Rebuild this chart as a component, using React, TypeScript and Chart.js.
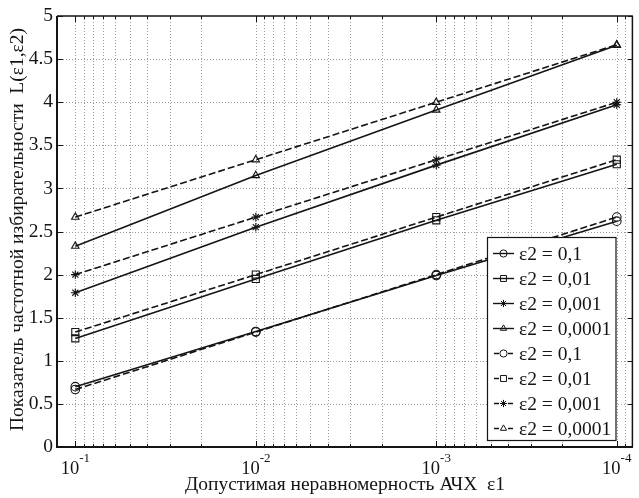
import React, { useEffect, useRef } from 'react';
import { Chart, registerables } from 'chart.js';
import { drawPoint } from 'chart.js/helpers';

Chart.register(...registerables);

// ---- data ----
const epsilon1 = [0.1, 0.01, 0.001, 0.0001];
const xTickExponents = [-1, -2, -3, -4];
const yTickValues = [0, 0.5, 1, 1.5, 2, 2.5, 3, 3.5, 4, 4.5, 5];
const legendLabels = ['ε2 = 0,1', 'ε2 = 0,01', 'ε2 = 0,001', 'ε2 = 0,0001', 'ε2 = 0,1', 'ε2 = 0,01', 'ε2 = 0,001', 'ε2 = 0,0001'];

const solidCircle = [0.70, 1.34, 1.99, 2.62];
const solidSquare = [1.26, 1.95, 2.63, 3.28];
const solidStar = [1.79, 2.55, 3.27, 3.97];
const solidTriangle = [2.33, 3.15, 3.91, 4.66];
const dashedCircle = [0.667, 1.333, 2.0, 2.667];
const dashedSquare = [1.333, 2.0, 2.667, 3.333];
const dashedStar = [2.0, 2.667, 3.333, 4.0];
const dashedTriangle = [2.667, 3.333, 4.0, 4.667];

const xTitle = 'Допустимая неравномерность АЧХ  ε1';
const yTitle = 'Показатель частотной избирательности  L(ε1,ε2)';

const series = [
  { values: solidCircle, marker: 'circle', dashed: false },
  { values: solidSquare, marker: 'rect', dashed: false },
  { values: solidStar, marker: 'star', dashed: false },
  { values: solidTriangle, marker: 'triangle', dashed: false },
  { values: dashedCircle, marker: 'circle', dashed: true },
  { values: dashedSquare, marker: 'rect', dashed: true },
  { values: dashedStar, marker: 'star', dashed: true },
  { values: dashedTriangle, marker: 'triangle', dashed: true },
];

const FONT = '"Liberation Serif", "Times New Roman", serif';
const X_MIN = 8.14e-5;
const X_MAX = 0.12631;
const INK = '#141414';

const decorPlugin = {
  id: 'decor',
  beforeDatasetsDraw(chart: any) {
    const { ctx, chartArea: a, scales } = chart;
    const x = scales.x;
    const y = scales.y;
    ctx.save();
    ctx.strokeStyle = '#9c9c9c';
    ctx.lineWidth = 1;
    ctx.setLineDash([1, 2]);
    for (const v of yTickValues) {
      if (v <= 0 || v >= 5) continue;
      const py = Math.round(y.getPixelForValue(v)) + 0.5;
      ctx.beginPath();
      ctx.moveTo(a.left, py);
      ctx.lineTo(a.right, py);
      ctx.stroke();
    }
    for (let e = -5; e <= -1; e++) {
      for (let m = 1; m <= 9; m++) {
        const v = m * Math.pow(10, e);
        if (v <= x.min || v > x.max) continue;
        const px = Math.round(x.getPixelForValue(v)) + 0.5;
        ctx.beginPath();
        ctx.moveTo(px, a.top);
        ctx.lineTo(px, a.bottom);
        ctx.stroke();
      }
    }
    ctx.restore();
  },
  afterDatasetsDraw(chart: any) {
    const { ctx, chartArea: a, scales } = chart;
    const x = scales.x;
    const y = scales.y;
    ctx.save();
    ctx.setLineDash([]);
    ctx.strokeStyle = INK;
    // ticks
    ctx.lineWidth = 1;
    for (let e = -5; e <= -1; e++) {
      for (let m = 1; m <= 9; m++) {
        const v = m * Math.pow(10, e);
        if (v <= x.min || v > x.max) continue;
        const px = Math.round(x.getPixelForValue(v)) + 0.5;
        const len = m === 1 ? 6 : 3;
        ctx.beginPath();
        ctx.moveTo(px, a.bottom);
        ctx.lineTo(px, a.bottom - len);
        ctx.moveTo(px, a.top);
        ctx.lineTo(px, a.top + len);
        ctx.stroke();
      }
    }
    for (const v of yTickValues) {
      const py = Math.round(y.getPixelForValue(v)) + 0.5;
      ctx.beginPath();
      ctx.moveTo(a.left, py);
      ctx.lineTo(a.left + 6, py);
      ctx.moveTo(a.right, py);
      ctx.lineTo(a.right - 5, py);
      ctx.stroke();
    }
    // box
    ctx.lineWidth = 1.5;
    ctx.beginPath();
    ctx.moveTo(a.left, a.top);
    ctx.lineTo(a.right, a.top);
    ctx.moveTo(a.right - 0.5, a.top);
    ctx.lineTo(a.right - 0.5, a.bottom);
    ctx.stroke();
    ctx.lineWidth = 2;
    ctx.beginPath();
    ctx.moveTo(a.left, a.top);
    ctx.lineTo(a.left, a.bottom);
    ctx.lineTo(a.right, a.bottom);
    ctx.stroke();

    // y tick labels
    ctx.fillStyle = INK;
    ctx.font = `19.5px ${FONT}`;
    ctx.textAlign = 'right';
    ctx.textBaseline = 'middle';
    for (const v of yTickValues) {
      ctx.fillText(String(v), a.left - 4, y.getPixelForValue(v));
    }
    // x tick labels with superscript
    ctx.textBaseline = 'alphabetic';
    ctx.textAlign = 'left';
    for (const e of xTickExponents) {
      const px = x.getPixelForValue(Math.pow(10, e));
      ctx.font = `18.5px ${FONT}`;
      const wBase = ctx.measureText('10').width;
      ctx.font = `13px ${FONT}`;
      const sup = '-' + String(-e);
      const wSup = ctx.measureText(sup).width;
      const x0 = px - (wBase + wSup) / 2;
      ctx.font = `18.5px ${FONT}`;
      ctx.fillText('10', x0, a.bottom + 27);
      ctx.font = `13px ${FONT}`;
      ctx.fillText(sup, x0 + wBase, a.bottom + 15);
    }
    // titles
    ctx.font = `19.5px ${FONT}`;
    ctx.textAlign = 'center';
    ctx.fillText(xTitle, (a.left + a.right) / 2, 490);
    ctx.save();
    ctx.translate(23, (a.top + a.bottom) / 2 - 2);
    ctx.rotate(-Math.PI / 2);
    ctx.fillText(yTitle, 0, 0);
    ctx.restore();

    // legend
    const bx = 487.5, by = 237.5, bw = 128.5, bh = 203;
    ctx.fillStyle = '#fff';
    ctx.fillRect(bx, by, bw, bh);
    ctx.lineWidth = 1.2;
    ctx.strokeStyle = INK;
    ctx.strokeRect(bx, by, bw, bh);
    series.forEach((s, i) => {
      const cy = 253.5 + i * 25;
      ctx.strokeStyle = INK;
      ctx.lineWidth = 1.4;
      ctx.beginPath();
      if (s.dashed) {
        ctx.moveTo(494, cy); ctx.lineTo(499, cy);
        ctx.moveTo(508, cy); ctx.lineTo(513, cy);
      } else {
        ctx.moveTo(493, cy); ctx.lineTo(514, cy);
      }
      ctx.stroke();
      ctx.fillStyle = 'rgba(0,0,0,0)';
      ctx.lineWidth = 1;
      drawPoint(ctx, { pointStyle: s.marker as any, radius: s.marker === 'rect' ? 4.2 : 3.6, borderWidth: 1, rotation: 0 }, 503.5, cy);
      ctx.fillStyle = INK;
      ctx.font = `19.5px ${FONT}`;
      ctx.textAlign = 'left';
      ctx.textBaseline = 'middle';
      ctx.fillText(legendLabels[i], 519, cy + 1);
    });
    ctx.restore();
  },
};

export default function App() {
  const ref = useRef<HTMLCanvasElement | null>(null);
  useEffect(() => {
    if (!ref.current) return;
    const chart = new Chart(ref.current, {
      type: 'line',
      data: {
        datasets: series.map((s, i) => ({
          label: legendLabels[i],
          data: epsilon1.map((xv, j) => ({ x: xv, y: s.values[j] })),
          borderColor: INK,
          borderWidth: 1.6,
          borderDash: s.dashed ? [7, 3] : [],
          pointStyle: s.marker as any,
          pointRadius: s.marker === 'rect' ? 5 : 4.3,
          pointBorderColor: INK,
          pointBackgroundColor: 'rgba(0,0,0,0)',
          pointBorderWidth: 1.1,
          fill: false,
          tension: 0,
        })),
      },
      options: {
        responsive: false,
        animation: false,
        devicePixelRatio: 1,
        events: [],
        layout: { padding: { left: 57, top: 16, right: 0, bottom: 51 } },
        plugins: { legend: { display: false }, tooltip: { enabled: false } },
        scales: {
          x: { type: 'logarithmic', reverse: true, min: X_MIN, max: X_MAX, display: false },
          y: { type: 'linear', min: 0, max: 5, display: false },
        },
      },
      plugins: [decorPlugin],
    });
    return () => chart.destroy();
  }, []);
  return (
    <div style={{ position: 'fixed', left: 0, top: 0, width: 639, height: 498, background: '#fff' }}>
      <canvas ref={ref} width={639} height={498} style={{ display: 'block' }} />
    </div>
  );
}
